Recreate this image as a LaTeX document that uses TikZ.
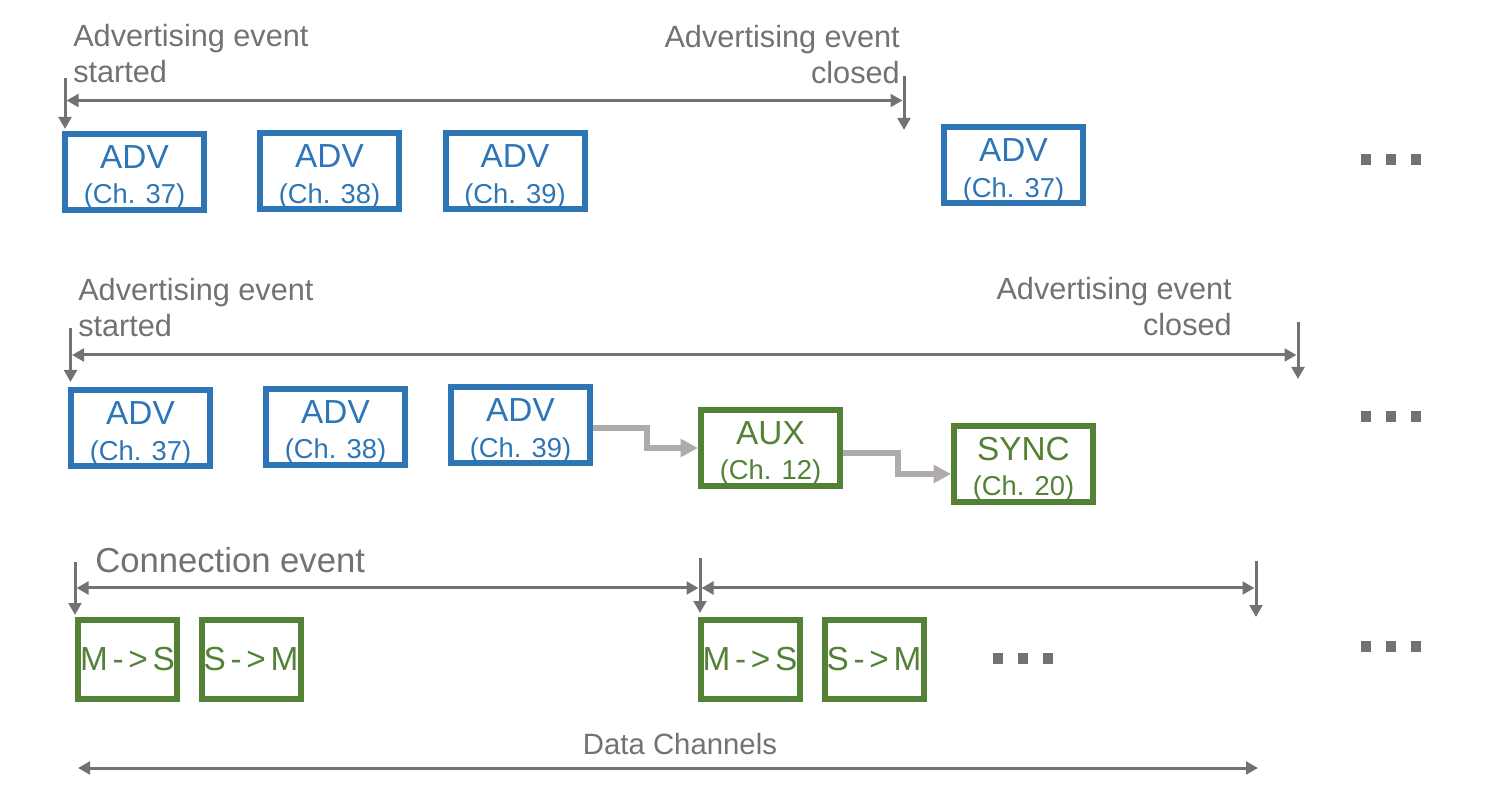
\documentclass[tikz,border=0pt]{standalone}
\usepackage{fontspec}
\setmainfont{Liberation Sans}
\usetikzlibrary{arrows.meta,calc}
\definecolor{advblue}{HTML}{2E75B6}
\definecolor{auxgreen}{HTML}{538135}
\definecolor{dimgray}{HTML}{767171}
\definecolor{flowgray}{HTML}{AFABAB}
\newcommand\boxtxt[2]{\rule{0pt}{25.4pt}{\fontsize{25}{26.5}\selectfont #1}\\#2}
\begin{document}
\begin{tikzpicture}[x=0.75pt,y=-0.75pt,
  advbox/.style={draw=advblue, text=advblue, line width=4.5pt, minimum width=104.25pt, minimum height=57pt, inner sep=0pt, align=center, font=\fontsize{20.5}{26.5}\selectfont},
  auxbox/.style={advbox, draw=auxgreen, text=auxgreen},
  databox/.style={draw=auxgreen, text=auxgreen, line width=4.5pt, minimum width=74.25pt, minimum height=59.25pt, inner sep=0pt, font=\fontsize{25}{30}\selectfont},
  lbl/.style={text=dimgray, inner sep=0pt, font=\fontsize{23}{27}\selectfont},
  dim/.style={draw=dimgray, line width=2.25pt, -{Triangle[length=9pt,width=9.5pt]}},
  dimboth/.style={draw=dimgray, line width=2.25pt, {Triangle[length=9pt,width=9.5pt]}-{Triangle[length=9pt,width=9.5pt]}},
  flow/.style={draw=flowgray, line width=4.5pt, -{Triangle[length=13pt,width=13pt]}},
  dot/.style={fill=dimgray, inner sep=0pt, minimum width=7.5pt, minimum height=8.25pt}
]
\useasboundingbox (0,0) rectangle (1496,812);

% ---------- Row 1 ----------
\node[lbl, anchor=west, align=left] (l1s) at (73,54) {Advertising event\\started};
\node[lbl, anchor=east, align=right] (l1c) at (900,55) {Advertising event\\closed};
\coordinate (a1t) at (65,78);
\coordinate (a1b) at (65,129);
\coordinate (a1m) at (66.5,100.5);
\coordinate (c1t) at (904,76);
\coordinate (c1b) at (904,130);
\coordinate (c1m) at (902.5,100.5);
\draw[dim] (a1t) -- (a1b);
\draw[dim] (c1t) -- (c1b);
\draw[dimboth] (a1m) -- (c1m);

\node[advbox] (r1b1) at (134.5,172) {\boxtxt{ADV}{(Ch. 37)}};
\node[advbox] (r1b2) at (329.5,171.5) {\boxtxt{ADV}{(Ch. 38)}};
\node[advbox] (r1b3) at (515,171.5) {\boxtxt{ADV}{(Ch. 39)}};
\node[advbox] (r1b4) at (1013.5,165.5) {\boxtxt{ADV}{(Ch. 37)}};

\node[dot] (r1d1) at (1366,159.5) {};
\node[dot] (r1d2) at (1391,159.5) {};
\node[dot] (r1d3) at (1415.5,159.5) {};

% ---------- Row 2 ----------
\node[lbl, anchor=west, align=left] (l2s) at (78,308) {Advertising event\\started};
\node[lbl, anchor=east, align=right] (l2c) at (1232,307) {Advertising event\\closed};
\coordinate (a2t) at (70.5,328);
\coordinate (a2b) at (70.5,382);
\coordinate (a2m) at (72,355);
\coordinate (c2t) at (1298,322);
\coordinate (c2b) at (1298,379);
\coordinate (c2m) at (1296.5,355);
\draw[dim] (a2t) -- (a2b);
\draw[dim] (c2t) -- (c2b);
\draw[dimboth] (a2m) -- (c2m);

\node[advbox] (r2b1) at (140.5,428.5) {\boxtxt{ADV}{(Ch. 37)}};
\node[advbox] (r2b2) at (335.5,427) {\boxtxt{ADV}{(Ch. 38)}};
\node[advbox] (r2b3) at (520.5,425.5) {\boxtxt{ADV}{(Ch. 39)}};
\node[auxbox] (aux) at (770.5,448) {\boxtxt{AUX}{(Ch. 12)}};
\node[auxbox] (sync) at (1023.5,464) {\boxtxt{SYNC}{(Ch. 20)}};

\draw[flow] ($(r2b3.east)+(0,2.5)$) -- ++(54,0) |- (aux.west);
\draw[flow] ($(aux.east)+(0,5)$) -- ++(55,0) |- ($(sync.west)+(0,10)$);

\node[dot] (r2d1) at (1366,417) {};
\node[dot] (r2d2) at (1391,417) {};
\node[dot] (r2d3) at (1415.5,417) {};

% ---------- Row 3 ----------
\node[lbl, anchor=west, font=\fontsize{26}{30}\selectfont] (l3c) at (95,560) {Connection event};
\coordinate (d1t) at (75,562);
\coordinate (d1b) at (75,615);
\coordinate (d1m) at (76.5,588);
\coordinate (d2t) at (700,558);
\coordinate (d2b) at (700,613);
\coordinate (d2l) at (698.5,588);
\coordinate (d2r) at (701.5,588);
\coordinate (d3t) at (1256,561);
\coordinate (d3b) at (1256,617);
\coordinate (d3m) at (1254.5,588);
\draw[dim] (d1t) -- (d1b);
\draw[dim] (d2t) -- (d2b);
\draw[dim] (d3t) -- (d3b);
\draw[dimboth] (d1m) -- (d2l);
\draw[dimboth] (d2r) -- (d3m);

\node[databox] (ms1) at (127.5,659.5) {M\kern3.5pt-\kern3.5pt>\kern3.5pt S};
\node[databox] (sm1) at (251,659.5) {S\kern3.5pt-\kern3.5pt>\kern3.5pt M};
\node[databox] (ms2) at (750,659.5) {M\kern3.5pt-\kern3.5pt>\kern3.5pt S};
\node[databox] (sm2) at (874,659.5) {S\kern3.5pt-\kern3.5pt>\kern3.5pt M};

\node[dot] (r3m1) at (998,658.5) {};
\node[dot] (r3m2) at (1023,658.5) {};
\node[dot] (r3m3) at (1047.5,658.5) {};
\node[dot] (r3d1) at (1366,646) {};
\node[dot] (r3d2) at (1391,646) {};
\node[dot] (r3d3) at (1415.5,646) {};

% ---------- Data channels ----------
\node[lbl, font=\fontsize{22}{26}\selectfont] (dcl) at (680,744) {Data Channels};
\coordinate (dc1) at (78,768);
\coordinate (dc2) at (1258,768);
\draw[dimboth] (dc1) -- (dc2);
\end{tikzpicture}
\end{document}
